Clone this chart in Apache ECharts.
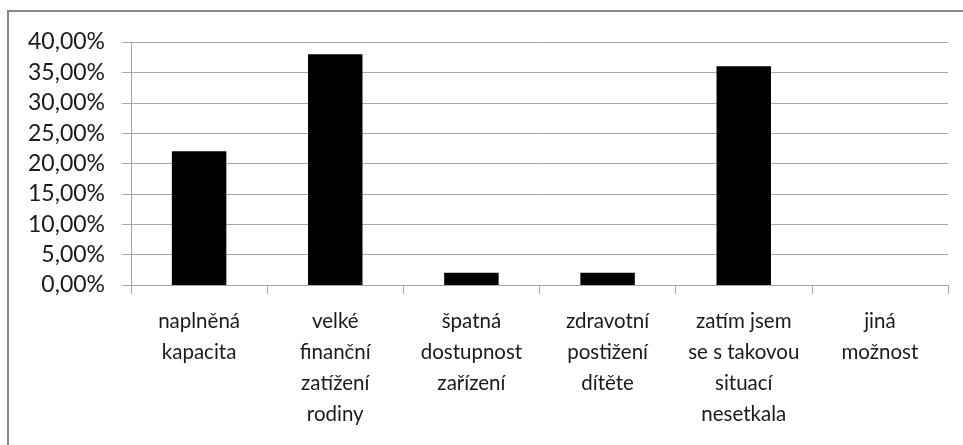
<!DOCTYPE html>
<html>
<head>
<meta charset="utf-8">
<script src="https://cdn.jsdelivr.net/npm/echarts@6/dist/echarts.min.js"></script>
<style>
  html, body { margin: 0; padding: 0; background: #fff; }
  #main { width: 963px; height: 445px; }
</style>
</head>
<body>
<div id="main"></div>
<script>
// kategorie a hodnoty (v %)
var categories = [
    'naplněná\nkapacita',
    'velké\nfinanční\nzatížení\nrodiny',
    'špatná\ndostupnost\nzařízení',
    'zdravotní\npostižení\ndítěte',
    'zatím jsem\nse s takovou\nsituací\nnesetkala',
    'jiná\nmožnost'
];
var values = [22, 38, 2, 2, 36, 0];
var yTicks = [0, 5, 10, 15, 20, 25, 30, 35, 40];

var myChart = echarts.init(document.getElementById('main'));

var fontFam = 'Lato, "Open Sans", sans-serif';

var option = {
    animation: false,
    backgroundColor: '#fff',
    graphic: [{
        type: 'rect',
        shape: { x: 8, y: 11, width: 1000, height: 500 },
        style: { fill: 'none', stroke: '#878787', lineWidth: 2 },
        silent: true
    }],
    grid: {
        left: 131,
        right: 15,
        top: 42,
        bottom: 160
    },
    xAxis: {
        type: 'category',
        data: categories,
        axisLine: { lineStyle: { color: '#a6a6a6', width: 1 } },
        axisTick: { show: true, length: 9, lineStyle: { color: '#a6a6a6' } },
        axisLabel: {
            interval: 0,
            margin: 21,
            color: '#1a1a1a',
            fontSize: 20.5,
            lineHeight: 31,
            fontFamily: fontFam,
            align: 'center'
        }
    },
    yAxis: {
        type: 'value',
        min: yTicks[0],
        max: yTicks[yTicks.length - 1],
        interval: 5,
        axisLine: { show: true, lineStyle: { color: '#a6a6a6' } },
        axisTick: { show: true, length: 9, lineStyle: { color: '#a6a6a6' } },
        splitLine: { lineStyle: { color: '#a6a6a6', width: 1 } },
        axisLabel: {
            margin: 26,
            color: '#1a1a1a',
            fontSize: 23,
            fontFamily: fontFam,
            formatter: function (v) {
                return v.toFixed(2).replace('.', ',') + '%';
            }
        }
    },
    series: [{
        type: 'bar',
        data: values,
        barWidth: '40%',
        itemStyle: { color: '#000' }
    }]
};

myChart.setOption(option);
</script>
</body>
</html>
